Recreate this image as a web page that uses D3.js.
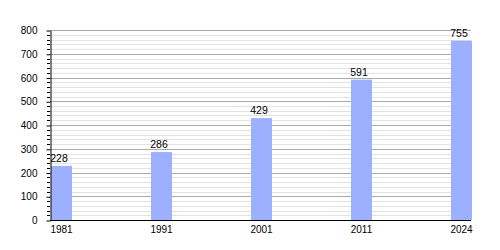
<!DOCTYPE html>
<html>
<head>
<meta charset="utf-8">
<script src="https://cdn.jsdelivr.net/npm/d3@7"></script>
<style>
    body { margin: 0; background: #fff; }
    text { font-family: "Liberation Sans", Arial, sans-serif; fill: #000; }
</style>
</head>
<body>
<div id="chart"></div>
<script>
// chart data
const years = ['1981', '1991', '2001', '2011', '2024'];
const population = [228, 286, 429, 591, 755];
const yTicks = [0, 100, 200, 300, 400, 500, 600, 700, 800];

const width = 500;
const height = 250;
const margin = { top: 30, right: 29, bottom: 30, left: 50 };

const svg = d3.select('#chart').append('svg')
    .attr('width', width)
    .attr('height', height);

const x = d3.scaleBand()
    .domain(years)
    .range([margin.left, width - margin.right])
    .paddingInner(0.79)
    .paddingOuter(0)
    .align(0);

const y = d3.scaleLinear()
    .domain([0, 800])
    .range([height - margin.bottom, margin.top]);

// minor + major gridlines
const minor = d3.range(0, 801, 20).filter(v => v % 100 !== 0);
svg.append('g')
    .selectAll('line')
    .data(minor)
    .enter().append('line')
    .attr('x1', margin.left)
    .attr('x2', width - margin.right)
    .attr('y1', d => Math.round(y(d)) + 0.5)
    .attr('y2', d => Math.round(y(d)) + 0.5)
    .attr('stroke', '#e2e2e2');

svg.append('g')
    .selectAll('line')
    .data(yTicks.filter(d => d > 0))
    .enter().append('line')
    .attr('x1', margin.left)
    .attr('x2', width - margin.right)
    .attr('y1', d => Math.round(y(d)) + 0.5)
    .attr('y2', d => Math.round(y(d)) + 0.5)
    .attr('stroke', '#aaaaaa');

// bars
svg.append('g')
    .selectAll('rect')
    .data(population)
    .enter().append('rect')
    .attr('x', (d, i) => x(years[i]) + 1)
    .attr('y', d => y(d))
    .attr('width', x.bandwidth())
    .attr('height', d => y(0) - y(d))
    .attr('fill', '#9db0ff');

// value labels
svg.append('g')
    .selectAll('text')
    .data(population)
    .enter().append('text')
    .attr('x', (d, i) => x(years[i]) + x.bandwidth() / 2 - 1.5)
    .attr('y', d => y(d) - 4)
    .attr('text-anchor', 'middle')
    .attr('font-size', 10.5)
    .text(d => d);

// y axis with minor ticks
svg.append('g')
    .selectAll('line')
    .data(minor)
    .enter().append('line')
    .attr('x1', margin.left - 3)
    .attr('x2', margin.left)
    .attr('y1', d => Math.round(y(d)) + 0.5)
    .attr('y2', d => Math.round(y(d)) + 0.5)
    .attr('stroke', '#000');

const yAxis = svg.append('g')
    .attr('transform', `translate(${margin.left + 0.5},0.5)`)
    .call(d3.axisLeft(y).tickValues(yTicks).tickSizeInner(4).tickSizeOuter(0).tickPadding(9));
yAxis.select('.domain').attr('stroke', '#000');
yAxis.selectAll('text').attr('font-size', 10).attr('font-family', null);

// x axis
svg.append('line')
    .attr('x1', margin.left)
    .attr('x2', width - margin.right)
    .attr('y1', y(0) + 0.5)
    .attr('y2', y(0) + 0.5)
    .attr('stroke', '#000');

svg.append('g')
    .selectAll('text')
    .data(years)
    .enter().append('text')
    .attr('x', d => x(d) + x.bandwidth() / 2 + 1)
    .attr('y', y(0) + 13)
    .attr('text-anchor', 'middle')
    .attr('font-size', 10)
    .text(d => d);
</script>
</body>
</html>
